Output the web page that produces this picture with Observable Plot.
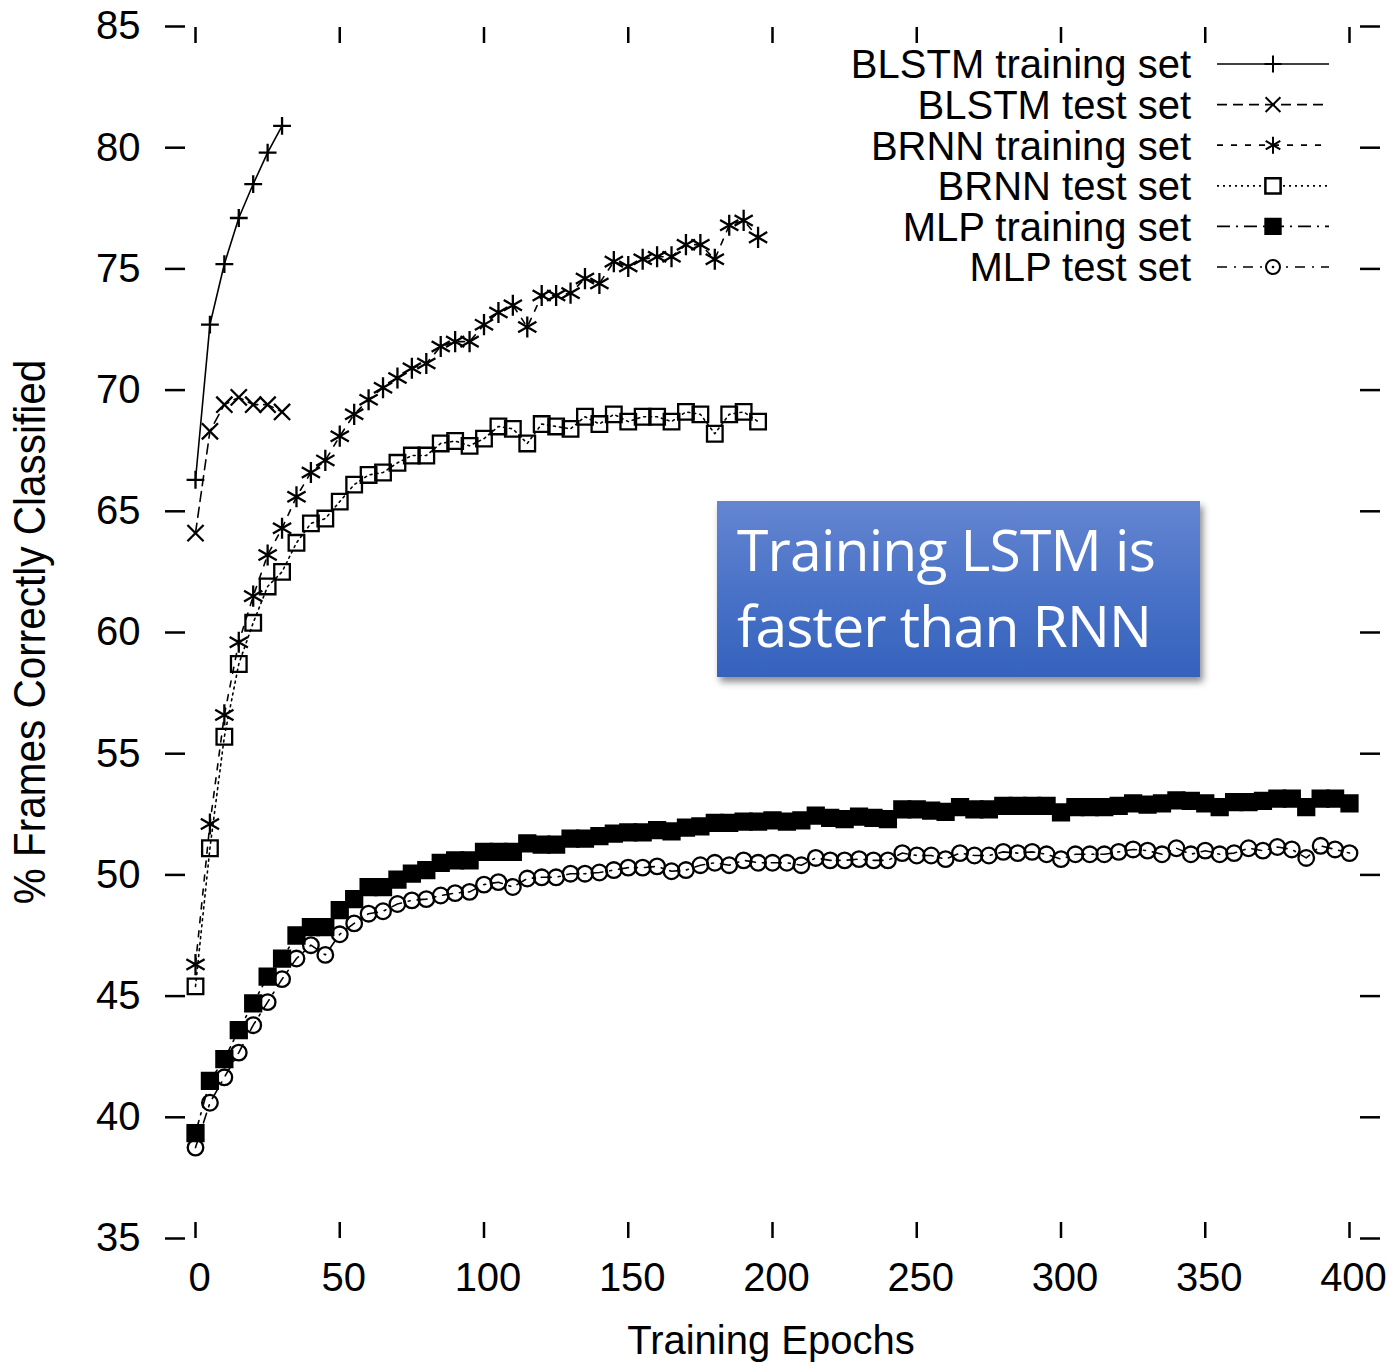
<!DOCTYPE html>
<html><head><meta charset="utf-8">
<script src="https://cdn.jsdelivr.net/npm/d3@7"></script>
<script src="https://cdn.jsdelivr.net/npm/@observablehq/plot@0.6"></script>
<style>
body{margin:0;background:#fff;}
#wrap{position:relative;width:1389px;height:1363px;overflow:hidden;font-family:'Liberation Sans',Arial,sans-serif;background:#fff;}
#wrap svg{position:absolute;left:0;top:0;}
.lbl{position:absolute;white-space:nowrap;font-size:40px;line-height:40px;color:#000;}
#ylabel{left:30px;top:632px;font-size:44px;line-height:44px;transform:translate(-50%,-50%) rotate(-90deg) scaleX(0.92);}
#xlabel{left:771px;top:1320px;transform:translateX(-50%);}
#note{position:absolute;left:717px;top:501px;width:483px;height:176px;
  background:linear-gradient(to bottom,#6585d0 0%,#4a73c8 50%,#3562bd 100%);
  box-shadow:3px 5px 7px rgba(0,0,0,0.45);}
#note div{position:absolute;left:20px;font-family:'Open Sans',sans-serif;font-size:57px;line-height:76px;color:#fff;white-space:nowrap;letter-spacing:-0.8px;}
</style></head><body><div id="wrap"></div>
<script>
// ---- data ----
const xTicks = [0, 50, 100, 150, 200, 250, 300, 350, 400];
const yTicks = [35, 40, 45, 50, 55, 60, 65, 70, 75, 80, 85];

const blstmEpochs = [0, 5, 10, 15, 20, 25, 30];
const blstmTrain = [66.3, 72.7, 75.2, 77.1, 78.5, 79.8, 80.9];
const blstmTest  = [64.1, 68.3, 69.4, 69.7, 69.4, 69.4, 69.1];

const brnnEpochs = [0,5,10,15,20,25,30,35,40,45,50,55,60,65,70,75,80,85,90,95,
  100,105,110,115,120,125,130,135,140,145,150,155,160,165,170,175,180,185,190,195];
const brnnTrain = [46.3,52.1,56.6,59.6,61.5,63.2,64.3,65.6,66.6,67.1,
  68.1,69.0,69.6,70.1,70.5,70.9,71.1,71.8,72.0,72.0,
  72.7,73.2,73.5,72.6,73.9,73.9,74.0,74.6,74.4,75.3,
  75.1,75.4,75.5,75.5,76.0,76.0,75.4,76.8,77.0,76.3];
const brnnTest = [45.4,51.1,55.7,58.7,60.4,61.9,62.5,63.7,64.5,64.7,
  65.4,66.1,66.5,66.6,67.0,67.3,67.3,67.8,67.9,67.7,
  68.0,68.5,68.4,67.8,68.6,68.5,68.4,68.9,68.6,69.0,
  68.7,68.9,68.9,68.7,69.1,69.0,68.2,69.0,69.1,68.7];

const mlpEpochs = [0,5,10,15,20,25,30,35,40,45,50,55,60,65,70,75,80,85,90,95,
  100,105,110,115,120,125,130,135,140,145,150,155,160,165,170,175,180,185,190,195,
  200,205,210,215,220,225,230,235,240,245,250,255,260,265,270,275,280,285,290,295,
  300,305,310,315,320,325,330,335,340,345,350,355,360,365,370,375,380,385,390,395,400];
const mlpTrain = [39.35,41.5,42.4,43.6,44.7,45.8,46.55,47.5,47.85,47.85,
  48.55,49.0,49.5,49.5,49.8,50.05,50.2,50.5,50.6,50.6,
  50.95,50.95,50.95,51.3,51.25,51.25,51.5,51.5,51.6,51.7,
  51.75,51.75,51.85,51.8,51.95,52.0,52.15,52.15,52.2,52.2,
  52.25,52.2,52.25,52.45,52.35,52.3,52.4,52.35,52.3,52.7,
  52.7,52.65,52.6,52.8,52.7,52.7,52.85,52.85,52.85,52.85,
  52.58,52.8,52.8,52.8,52.85,52.95,52.9,52.95,53.07,53.05,
  52.95,52.8,53.0,53.0,53.05,53.15,53.15,52.8,53.15,53.15,52.95];
const mlpTest = [38.75,40.6,41.65,42.67,43.8,44.75,45.7,46.55,47.1,46.7,
  47.55,48.0,48.4,48.5,48.8,48.95,49.0,49.15,49.25,49.3,
  49.6,49.7,49.5,49.85,49.9,49.9,50.05,50.05,50.1,50.2,
  50.3,50.3,50.35,50.15,50.2,50.4,50.5,50.4,50.6,50.5,
  50.5,50.5,50.4,50.7,50.6,50.6,50.65,50.6,50.6,50.9,
  50.8,50.8,50.65,50.9,50.8,50.8,50.95,50.9,50.95,50.85,
  50.65,50.85,50.85,50.85,50.95,51.05,51.0,50.85,51.1,50.85,
  51.0,50.85,50.9,51.1,51.0,51.15,51.05,50.7,51.2,51.05,50.9];

const seriesNames = ["BLSTM training set","BLSTM test set","BRNN training set","BRNN test set","MLP training set","MLP test set"];
const noteLines = ["Training LSTM is", "faster than RNN"];
const xLabel = "Training Epochs";
const yLabel = "% Frames Correctly Classified";

// ---- build ----
const rows = (ep, vals) => ep.map((e, i) => ({epoch: e, value: vals[i]}));
const series = [
  {data: rows(blstmEpochs, blstmTrain), dash: null, symbol: "plus", r: 5.8, fill: "none", lr: 5.5},
  {data: rows(blstmEpochs, blstmTest), dash: "10,6", symbol: "times", r: 7.4, fill: "none", lr: 6.8},
  {data: rows(brnnEpochs, brnnTrain), dash: "6,8", symbol: "asterisk", r: 10, fill: "none", lr: 8},
  {data: rows(brnnEpochs, brnnTest), dash: "2,4", symbol: "square", r: 8.8, fill: "none", lr: 8.6},
  {data: rows(mlpEpochs, mlpTrain), dash: "13,6,2,6", symbol: "square", r: 9, fill: "black", lr: 8.4},
  {data: rows(mlpEpochs, mlpTest), dash: "10,7,2,7", symbol: "circle", r: 7.8, fill: "none", lr: 7}
];

const marks = [
  Plot.axisY({anchor: "left", ticks: yTicks, tickSize: 20, dx: -10, tickPadding: 25, fontSize: 40, strokeWidth: 2.5, label: null}),
  Plot.axisY({anchor: "right", ticks: yTicks, tickSize: 20, dx: 10, tickFormat: () => "", strokeWidth: 2.5, label: null}),
  Plot.axisX({anchor: "top", ticks: xTicks, tickSize: -16, tickFormat: () => "", strokeWidth: 2.5, label: null}),
  Plot.axisX({anchor: "bottom", ticks: xTicks, tickSize: -16, tickFormat: () => "", strokeWidth: 2.5, label: null}),
  Plot.axisX({anchor: "bottom", ticks: xTicks, tickSize: 0, tickPadding: 24, dx: 4, fontSize: 40, label: null})
];
for (const s of series) {
  marks.push(Plot.line(s.data, {x: "epoch", y: "value", stroke: "black", strokeWidth: 1.6, strokeDasharray: s.dash}));
}
for (const s of series) {
  marks.push(Plot.dot(s.data, {x: "epoch", y: "value", symbol: s.symbol, r: s.r,
    stroke: "black", strokeWidth: 2.3, fill: s.fill}));
}

const chart = Plot.plot({
  width: 1389, height: 1363,
  marginLeft: 195, marginRight: 40, marginTop: 26, marginBottom: 125,
  x: {domain: [0, 400]},
  y: {domain: [35, 85]},
  style: {fontFamily: "'Liberation Sans', Arial, sans-serif", fontSize: "40px", color: "black", background: "white", overflow: "visible"},
  marks
});
const wrap = document.getElementById("wrap");
wrap.appendChild(chart);

// axis titles
const yl = document.createElement("div"); yl.className = "lbl"; yl.id = "ylabel"; yl.textContent = yLabel; wrap.appendChild(yl);
const xl = document.createElement("div"); xl.className = "lbl"; xl.id = "xlabel"; xl.textContent = xLabel; wrap.appendChild(xl);

// legend
const symMap = {plus: d3.symbolPlus, times: d3.symbolTimes, asterisk: d3.symbolAsterisk, square: d3.symbolSquare, circle: d3.symbolCircle};
const leg = d3.select(wrap).append("svg").attr("width", 1389).attr("height", 1363)
  .style("pointer-events", "none");
seriesNames.forEach((name, i) => {
  const s = series[i];
  const cy = 64 + i * 40.6;
  const g = leg.append("g");
  g.append("text").attr("x", 1191).attr("y", cy).attr("dy", "0.36em")
    .attr("text-anchor", "end").attr("font-family", "'Liberation Sans', Arial, sans-serif")
    .attr("font-size", 40).text(name);
  g.append("line").attr("x1", 1217).attr("x2", 1329).attr("y1", cy).attr("y2", cy)
    .attr("stroke", "black").attr("stroke-width", 1.7).attr("stroke-dasharray", s.dash);
  const rr = s.lr;
  g.append("path").attr("transform", `translate(1273,${cy})`)
    .attr("d", d3.symbol(symMap[s.symbol], Math.PI * rr * rr)())
    .attr("fill", s.fill === "black" ? "black" : (s.symbol === "square" || s.symbol === "circle" ? "white" : "none"))
    .attr("stroke", "black").attr("stroke-width", s.symbol === "square" ? 2.5 : 2);
  if (s.symbol === "circle") {
    g.append("circle").attr("cx", 1273).attr("cy", cy).attr("r", 1.3).attr("fill", "black");
  }
});

// annotation box
const note = document.createElement("div"); note.id = "note";
noteLines.forEach((t, i) => {
  const d = document.createElement("div"); d.textContent = t; d.style.top = (10 + i * 76) + "px"; note.appendChild(d);
});
wrap.appendChild(note);
</script>
</body></html>
